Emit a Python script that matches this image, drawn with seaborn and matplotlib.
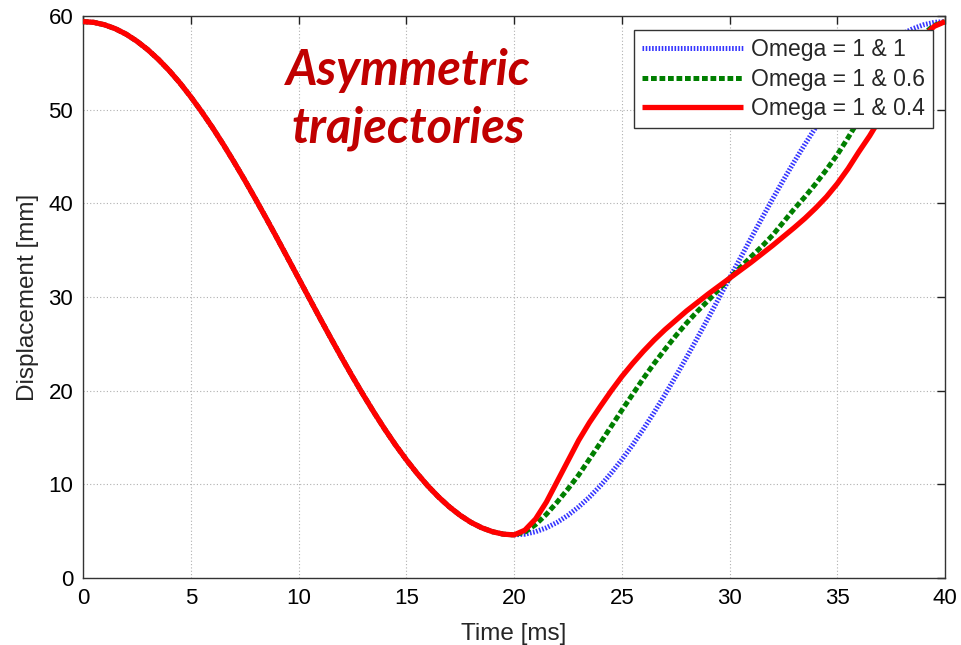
import matplotlib
matplotlib.use("Agg")
import matplotlib.pyplot as plt
import seaborn as sns
import pandas as pd

# ---- data ----
t_fall = [0, 0.5, 1, 1.5, 2, 2.5, 3, 3.5, 4, 4.5, 5, 5.5, 6, 6.5, 7, 7.5, 8, 8.5, 9, 9.5,
          10, 10.5, 11, 11.5, 12, 12.5, 13, 13.5, 14, 14.5, 15, 15.5, 16, 16.5, 17, 17.5,
          18, 18.5, 19, 19.5, 20]
y_fall = [59.4, 59.32, 59.06, 58.64, 58.06, 57.31, 56.41, 55.36, 54.17, 52.84, 51.37,
          49.79, 48.11, 46.32, 44.44, 42.49, 40.47, 38.40, 36.29, 34.15, 32.0, 29.85,
          27.71, 25.60, 23.53, 21.51, 19.56, 17.68, 15.89, 14.20, 12.63, 11.17, 9.83,
          8.64, 7.59, 6.69, 5.94, 5.36, 4.94, 4.68, 4.6]

t_rise = [20.5, 21, 21.5, 22, 22.5, 23, 23.5, 24, 24.5, 25, 25.5, 26, 26.5, 27, 27.5,
          28, 28.5, 29, 29.5, 30, 30.5, 31, 31.5, 32, 32.5, 33, 33.5, 34, 34.5, 35, 35.5,
          36, 36.5, 37, 37.5, 38, 38.5, 39, 39.5, 40]
y_rise_1 = [4.68, 4.94, 5.36, 5.94, 6.69, 7.59, 8.64, 9.83, 11.17, 12.63, 14.20, 15.89,
            17.68, 19.56, 21.51, 23.53, 25.60, 27.71, 29.85, 32.0, 34.15, 36.29, 38.40,
            40.47, 42.49, 44.44, 46.32, 48.11, 49.79, 51.37, 52.84, 54.17, 55.36, 56.41,
            57.31, 58.06, 58.64, 59.06, 59.32, 59.4]
y_rise_06 = [4.9, 5.7, 6.8, 8.1, 9.5, 11.0, 12.7, 14.4, 16.15, 17.9, 19.6, 21.3, 22.9,
             24.4, 25.85, 27.2, 28.45, 29.6, 30.8, 32.0, 33.15, 34.3, 35.4, 36.6, 38.0,
             39.4, 40.7, 42.1, 43.6, 45.2, 47.0, 48.9, 50.75, 52.5, 54.1, 55.6, 57.0,
             58.1, 59.0, 59.4]
y_rise_04 = [5.1, 6.3, 8.1, 10.3, 12.5, 14.7, 16.6, 18.3, 19.95, 21.5, 22.9, 24.2, 25.4,
             26.5, 27.5, 28.5, 29.4, 30.3, 31.15, 32.0, 32.85, 33.7, 34.6, 35.5, 36.45,
             37.4, 38.4, 39.5, 40.7, 42.1, 43.7, 45.5, 47.2, 49.1, 51.3, 53.6, 55.9,
             57.8, 58.9, 59.4]

labels = ["Omega = 1 & 1", "Omega = 1 & 0.6", "Omega = 1 & 0.4"]
x_ticks = [0, 5, 10, 15, 20, 25, 30, 35, 40]
y_ticks = [0, 10, 20, 30, 40, 50, 60]

sns.set_style("white")
plt.rcParams["font.family"] = ["Liberation Sans", "DejaVu Sans"]

fig = plt.figure(figsize=(9.61, 6.45), dpi=100)
ax = fig.add_axes([0.0864, 0.1039, 0.897, 0.8713])

series = [y_rise_1, y_rise_06, y_rise_04]
styles = [
    dict(color="#3535ff", lw=3.6, dashes=(0.32, 0.32)),
    dict(color="#007f00", lw=3.6, dashes=(1.15, 0.55)),
    dict(color="#ff0000", lw=3.8, dashes=None),
]
handles = []
for lab, ys, st in zip(labels, series, styles):
    df = pd.DataFrame({"t": t_fall + t_rise, "d": y_fall + ys})
    sns.lineplot(data=df, x="t", y="d", ax=ax, color=st["color"], linewidth=st["lw"],
                 estimator=None, sort=False, zorder=3)
    ln = ax.lines[-1]
    if st["dashes"] is not None:
        ln.set_dashes(st["dashes"])
    ln.set_solid_capstyle("butt")
    ln.set_solid_joinstyle("round")
    ln.set_label(lab)
    handles.append(ln)

ax.set_xlim(0, 40)
ax.set_ylim(0, 60)
ax.set_xticks(x_ticks)
ax.set_yticks(y_ticks)
ax.set_xticklabels([str(v) for v in x_ticks], fontsize=16)
ax.set_yticklabels([str(v) for v in y_ticks], fontsize=16)
ax.set_xlabel("Time [ms]", fontsize=17.5, labelpad=10)
ax.set_ylabel("Displacement [mm]", fontsize=17.5, labelpad=7)

ax.grid(True, color="#b0b0b0", linestyle=(0, (1, 2)), linewidth=0.8, zorder=0)
ax.tick_params(direction="in", length=6, width=1, top=True, right=True,
               colors="#222222", labelcolor="black", pad=7)
for sp in ax.spines.values():
    sp.set_color("#333333")
    sp.set_linewidth(1.0)
    sp.set_visible(True)

leg = ax.legend(handles=handles, labels=labels, loc="upper right",
                bbox_to_anchor=(0.986, 0.975), borderaxespad=0,
                fontsize=16.5, handlelength=4.4, handletextpad=0.35,
                labelspacing=0.28, borderpad=0.36, fancybox=False, framealpha=1,
                edgecolor="#333333")
leg.get_frame().set_linewidth(1.0)

ax.text(15.1, 51.1, "Asymmetric\ntrajectories", ha="center", va="center",
        fontsize=35, fontweight="bold", fontstyle="italic", color="#c00000",
        family=["Lato", "DejaVu Sans"], linespacing=1.32, zorder=4)

fig.savefig("out.png", dpi=100)
